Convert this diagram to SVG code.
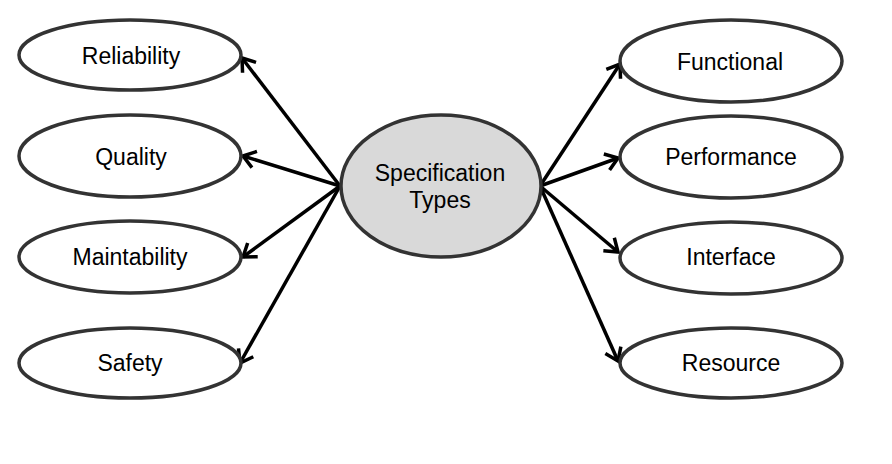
<svg xmlns="http://www.w3.org/2000/svg" width="892" height="464" viewBox="0 0 892 464">
<style>
.n{fill:#fff;stroke:#333;stroke-width:3.5}
.c{fill:#d9d9d9;stroke:#333;stroke-width:3.5}
text{font-family:"Liberation Sans",Arial,sans-serif;font-size:23px;fill:#000;text-anchor:middle}
.e line{stroke:#000;stroke-width:3.5;marker-end:url(#a)}
</style>
<defs>
<marker id="a" markerWidth="8" markerHeight="10" refX="7" refY="5" orient="auto" markerUnits="userSpaceOnUse" overflow="visible">
<path d="M-5,-3.5 L7,5 L-5,13.5" fill="none" stroke="#000" stroke-width="3.5"/>
</marker>
</defs>
<rect width="892" height="464" fill="#fff"/>
<g class="e" id="connectors">
<line x1="340" y1="186" x2="242" y2="58"/>
<line x1="340" y1="186" x2="243" y2="156"/>
<line x1="340" y1="186" x2="243" y2="257"/>
<line x1="340" y1="186" x2="240" y2="363"/>
<line x1="540" y1="186" x2="620" y2="64"/>
<line x1="540" y1="186" x2="618" y2="158"/>
<line x1="540" y1="186" x2="618" y2="252"/>
<line x1="540" y1="186" x2="618" y2="361"/>
</g>
<g id="center"><ellipse class="c" cx="441" cy="186" rx="100" ry="71"/><text x="440" y="181">Specification</text><text x="440" y="208">Types</text></g>
<g id="reliability"><ellipse class="n" cx="130" cy="55" rx="111" ry="35"/><text x="131" y="64">Reliability</text></g>
<g id="quality"><ellipse class="n" cx="130" cy="156" rx="111" ry="41"/><text x="131" y="165">Quality</text></g>
<g id="maintability"><ellipse class="n" cx="130" cy="257" rx="111" ry="36"/><text x="130" y="265">Maintability</text></g>
<g id="safety"><ellipse class="n" cx="130" cy="363" rx="111" ry="35"/><text x="130" y="371">Safety</text></g>
<g id="functional"><ellipse class="n" cx="731" cy="61" rx="111" ry="41"/><text x="730" y="70">Functional</text></g>
<g id="performance"><ellipse class="n" cx="731" cy="157" rx="111" ry="41"/><text x="731" y="165">Performance</text></g>
<g id="interface"><ellipse class="n" cx="731" cy="258" rx="111" ry="36"/><text x="731" y="265">Interface</text></g>
<g id="resource"><ellipse class="n" cx="731" cy="363" rx="111" ry="35"/><text x="731" y="371">Resource</text></g>
</svg>
